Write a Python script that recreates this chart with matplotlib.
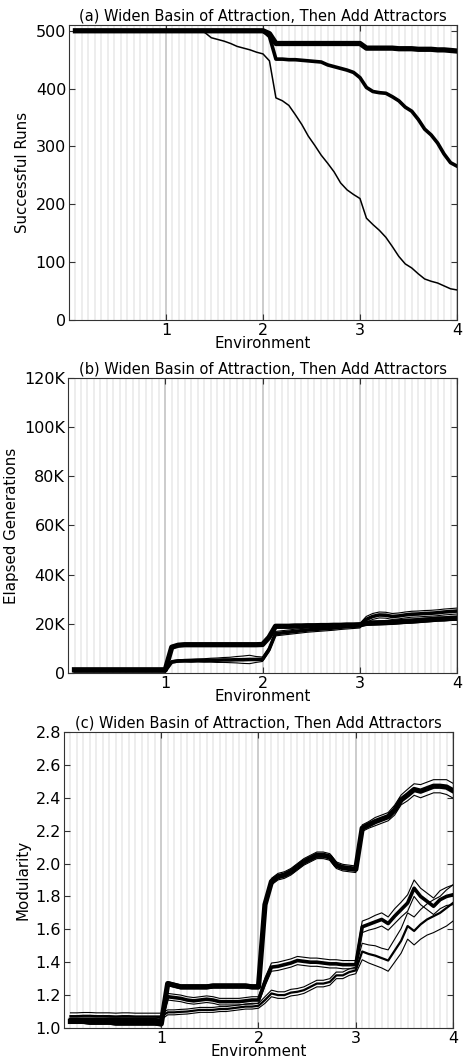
import numpy as np
import matplotlib
matplotlib.use('Agg')
import matplotlib.pyplot as plt
from matplotlib.ticker import FuncFormatter

# sample positions: 15 samples per environment
env_x = np.arange(1, 61) / 15

# (a) successful runs
runs_thick = [500] * 30 + [495] + [478] * 14 + \
    [470, 470, 470, 470, 470, 469, 469, 469, 468, 468, 468, 467, 467, 466, 465]
runs_mid = [500] * 30 + \
    [490, 451, 451, 450, 450, 449, 448, 447, 446, 441, 438, 435, 432, 428, 419] + \
    [402, 395, 393, 392, 386, 379, 368, 361, 347, 330, 320, 306, 287, 272, 266]
runs_thin = [500] * 20 + \
    [497, 488, 485, 482, 478, 473, 470, 467, 463, 460] + \
    [448, 384, 379, 371, 355, 338, 318, 302, 285, 271, 256, 237, 225, 217, 210] + \
    [176, 165, 155, 143, 127, 110, 97, 90, 80, 71, 67, 64, 59, 54, 52]

# (b) elapsed generations
gens_a = [1300] * 15 + \
    [10500, 11300, 11500, 11500, 11500, 11500, 11500, 11500, 11500, 11500,
     11500, 11500, 11500, 11500, 11600] + \
    [14500, 19000, 19000, 19000, 19100, 19100, 19200, 19200, 19300, 19300,
     19400, 19400, 19500, 19500, 19600] + \
    [20200, 20300, 20400, 20500, 20600, 20800, 21000, 21100, 21300, 21500,
     21700, 21900, 22000, 22200, 22300]
gens_b = [900] * 15 + \
    [4500, 4900, 5000, 5000, 5100, 5100, 5200, 5200, 5300, 5300,
     5400, 5400, 5500, 5500, 5600] + \
    [9500, 16000, 16300, 16600, 16900, 17200, 17500, 17700, 17900, 18100,
     18300, 18600, 18800, 19000, 19200] + \
    [21800, 23000, 23600, 23500, 23000, 23200, 23600, 23900, 24000, 24200,
     24300, 24500, 24800, 25000, 25200]
gens_a_spread = [500] * 15 + [600] * 15 + [700] * 15 + [800] * 15
gens_b_spread = [500] * 15 + \
    [500, 500, 500, 600, 600, 700, 800, 900, 1000, 1100, 1300, 1500, 1700, 1200, 900] + \
    [900] * 15 + [1200] * 15

# (c) modularity
mod_a = [1.04, 1.04, 1.04, 1.035, 1.035, 1.035, 1.035, 1.03, 1.03, 1.03,
         1.03, 1.03, 1.03, 1.03, 1.025] + \
    [1.27, 1.26, 1.25, 1.25, 1.25, 1.25, 1.25, 1.255, 1.255, 1.255,
     1.255, 1.255, 1.255, 1.25, 1.25] + \
    [1.75, 1.89, 1.92, 1.93, 1.95, 1.98, 2.01, 2.03, 2.05, 2.05,
     2.04, 1.99, 1.975, 1.97, 1.965] + \
    [2.215, 2.235, 2.255, 2.27, 2.285, 2.325, 2.387, 2.417, 2.45, 2.44,
     2.455, 2.47, 2.47, 2.465, 2.443]
mod_b = [1.052, 1.052, 1.052, 1.052, 1.052, 1.052, 1.05, 1.05, 1.05, 1.05,
         1.05, 1.05, 1.05, 1.05, 1.048] + \
    [1.19, 1.185, 1.18, 1.17, 1.165, 1.17, 1.175, 1.17, 1.16, 1.16,
     1.16, 1.16, 1.165, 1.17, 1.17] + \
    [1.28, 1.37, 1.375, 1.385, 1.395, 1.41, 1.405, 1.40, 1.40, 1.395,
     1.39, 1.39, 1.385, 1.385, 1.385] + \
    [1.615, 1.63, 1.645, 1.66, 1.635, 1.68, 1.72, 1.76, 1.85, 1.80,
     1.77, 1.74, 1.78, 1.80, 1.81]
mod_c = [1.072, 1.072, 1.074, 1.074, 1.072, 1.072, 1.072, 1.07, 1.072, 1.072,
         1.07, 1.07, 1.07, 1.07, 1.07] + \
    [1.095, 1.095, 1.098, 1.10, 1.105, 1.11, 1.11, 1.11, 1.115, 1.115,
     1.12, 1.125, 1.13, 1.13, 1.135] + \
    [1.17, 1.21, 1.20, 1.20, 1.215, 1.22, 1.23, 1.25, 1.27, 1.27,
     1.28, 1.32, 1.32, 1.34, 1.35] + \
    [1.465, 1.45, 1.44, 1.425, 1.41, 1.47, 1.53, 1.62, 1.59, 1.63,
     1.66, 1.68, 1.70, 1.73, 1.76]
mod_a_spread = [0.012] * 15 + [0.012] * 15 + [0.02] * 15 + \
    [0.02, 0.02, 0.025, 0.025, 0.025, 0.03, 0.03, 0.035, 0.035, 0.04,
     0.04, 0.04, 0.04, 0.045, 0.045]
mod_b_spread = [0.015] * 15 + [0.02] * 15 + [0.025] * 15 + \
    [0.035, 0.035, 0.04, 0.04, 0.04, 0.045, 0.045, 0.05, 0.05, 0.05,
     0.05, 0.05, 0.055, 0.055, 0.06]
mod_c_spread = [0.02] * 15 + [0.015] * 15 + [0.02] * 15 + \
    [0.05, 0.055, 0.06, 0.06, 0.065, 0.07, 0.075, 0.08, 0.085, 0.09,
     0.095, 0.1, 0.1, 0.11, 0.11]

title = 'Widen Basin of Attraction, Then Add Attractors'
env_ticks = [1, 2, 3, 4]
FS = 10.5


def style_axes(ax):
    ax.set_xlim(0, 4)
    ax.set_xticks(env_ticks)
    ax.set_xticks(env_x, minor=True)
    ax.grid(which='minor', axis='x', color='#ececec', linewidth=1.3, zorder=0)
    ax.grid(which='major', axis='x', color='#c8c8c8', linewidth=1.3, zorder=0)
    ax.grid(which='major', axis='y', visible=False)
    ax.tick_params(which='major', direction='in', top=True, right=True,
                   length=4, width=0.8, color='#333333', labelsize=11.5, pad=2)
    ax.tick_params(which='minor', length=0)
    for s in ax.spines.values():
        s.set_color('#333333')
        s.set_linewidth(0.8)
    ax.set_axisbelow(True)
    ax.set_xlabel('Environment', fontsize=10.8, labelpad=-1)


def band(ax, y, spread, lw):
    y = np.array(y)
    spread = np.array(spread)
    ax.plot(env_x, y + spread, color='black', lw=0.8, zorder=3)
    ax.plot(env_x, y - spread, color='black', lw=0.8, zorder=3)
    ax.plot(env_x, y, color='black', lw=lw, zorder=4)


fig = plt.figure(figsize=(4.64, 10.59), dpi=100)

ax1 = fig.add_axes([0.1487, 0.6978, 0.8362, 0.2786])
ax1.plot(env_x, runs_thin, color='black', lw=1.1)
ax1.plot(env_x, runs_mid, color='black', lw=2.6)
ax1.plot(env_x, runs_thick, color='black', lw=3.8)
ax1.set_ylim(0, 510)
ax1.set_yticks([0, 100, 200, 300, 400, 500])
style_axes(ax1)
ax1.set_ylabel('Successful Runs', fontsize=10.8)
ax1.set_title('(a) ' + title, fontsize=FS, pad=3)

ax2 = fig.add_axes([0.1466, 0.3645, 0.8384, 0.2786])
band(ax2, gens_b, gens_b_spread, 2.6)
band(ax2, gens_a, gens_a_spread, 3.8)
ax2.set_ylim(0, 120000)
ax2.set_yticks(np.arange(0, 120001, 20000))
ax2.yaxis.set_major_formatter(FuncFormatter(
    lambda v, p: '0' if v == 0 else '%dK' % (v / 1000)))
style_axes(ax2)
ax2.set_ylabel('Elapsed Generations', fontsize=10.8)
ax2.set_title('(b) ' + title, fontsize=FS, pad=3)

ax3 = fig.add_axes([0.1379, 0.0293, 0.8384, 0.2795])
band(ax3, mod_c, mod_c_spread, 1.6)
band(ax3, mod_b, mod_b_spread, 2.6)
band(ax3, mod_a, mod_a_spread, 3.8)
ax3.set_ylim(1.0, 2.8)
ax3.set_yticks(np.arange(1.0, 2.81, 0.2))
ax3.yaxis.set_major_formatter(FuncFormatter(lambda v, p: '%.1f' % v))
style_axes(ax3)
ax3.set_ylabel('Modularity', fontsize=10.8)
ax3.set_title('(c) ' + title, fontsize=FS, pad=3)

fig.savefig('out.png', dpi=100)
